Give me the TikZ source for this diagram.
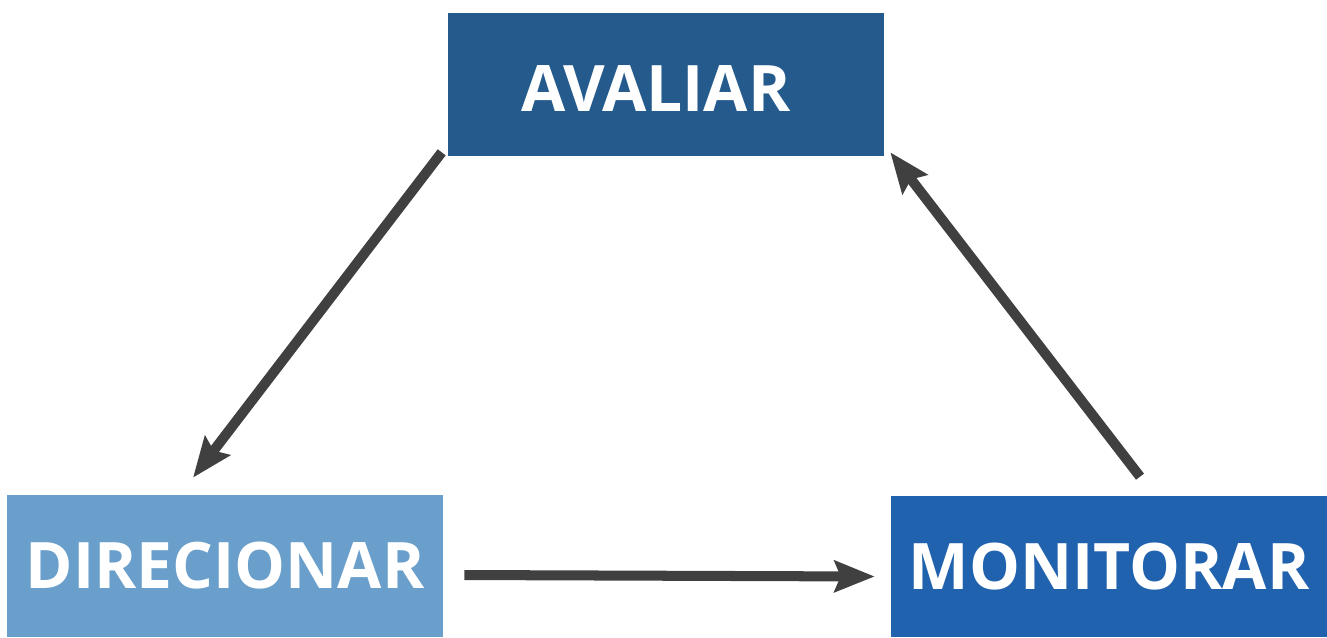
\documentclass[tikz,border=0pt]{standalone}
\usepackage{fontspec}
\setmainfont{Open Sans}
\usetikzlibrary{arrows.meta}
\definecolor{darkblue}{HTML}{245A8C}
\definecolor{lightblue}{HTML}{6A9FCB}
\definecolor{midblue}{HTML}{2162AE}
\definecolor{arrowgray}{HTML}{404040}
\begin{document}
  \begin{tikzpicture}[x=0.02cm,y=-0.02cm,
      stage/.style={rectangle,inner sep=0pt,minimum width=8.72cm,minimum height=2.86cm,
        text=white,font=\fontsize{36.5}{40}\selectfont\bfseries},
      flow/.style={line width=5.7pt,draw=arrowgray,
        -{Stealth[length=0.8cm,width=0.62cm,inset=0.12cm,fill=arrowgray]}}]
    \useasboundingbox (0,0) rectangle (1327,637);
    \node[stage,fill=darkblue] (aval) at (666,84.5)
      {AVALIAR\rule{0pt}{\dimexpr\fontcharht\font`A+0.18cm\relax}\hspace*{0.4cm}};
    \node[stage,fill=lightblue,minimum height=2.84cm] (dir) at (225,566) {DIRECIONAR};
    \node[stage,fill=midblue,minimum height=2.82cm] (mon) at (1109,566.5) {MONITORAR};
    \draw[flow]([shift={(-6,-4)}]aval.south west)--([shift={(-32,-17)}]dir.north);
    \draw[flow]([shift={(21,9)}]dir.east)--([shift={(-16,10)}]mon.west);
    \draw[flow]([shift={(31,-19)}]mon.north)--([shift={(6,-4)}]aval.south east);
  \end{tikzpicture}
\end{document}
